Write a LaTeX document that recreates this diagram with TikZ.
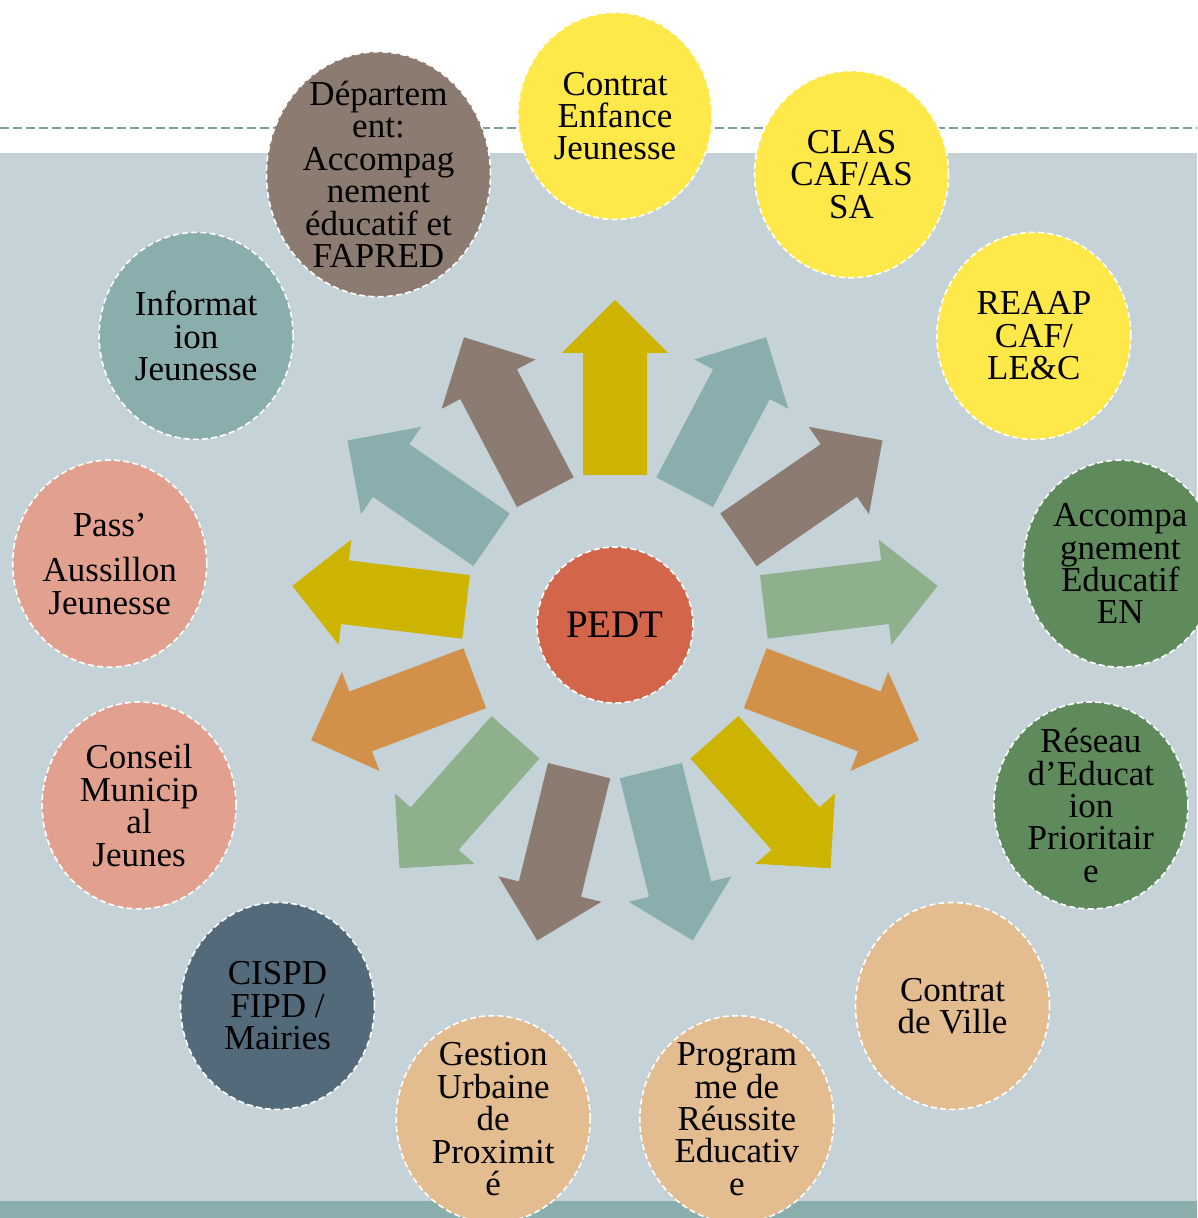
\documentclass[tikz,border=0pt]{standalone}
\usepackage{fontspec}
\setmainfont{Liberation Serif}
\usetikzlibrary{positioning}
\usetikzlibrary{shapes.geometric}

\definecolor{bggrey}{HTML}{C5D2D8}
\definecolor{stripteal}{HTML}{8AADAE}
\definecolor{linegrey}{HTML}{7D9D9E}
\definecolor{arryellow}{HTML}{CDB401}
\definecolor{arrteal}{HTML}{8AADAE}
\definecolor{arrbrown}{HTML}{8C7B70}
\definecolor{arrgreen}{HTML}{8FB08C}
\definecolor{arrorange}{HTML}{D2914A}
\definecolor{pedtred}{HTML}{D2654A}
\definecolor{sunyellow}{HTML}{FFE84A}
\definecolor{darkgreen}{HTML}{5F8B5C}
\definecolor{sand}{HTML}{E3BC8F}
\definecolor{slate}{HTML}{526A7A}
\definecolor{rose}{HTML}{E2A18F}

\begin{document}
\begin{tikzpicture}[
                            x=0.5pt, y=0.5pt,
                            bubble/.style={ellipse, draw=white, line width=0.8pt,
                                dash pattern=on 3pt off 1.6pt, inner sep=0pt,
                                minimum width=97pt, minimum height=103.5pt},
                            txt/.style={align=center, inner sep=0pt,
                                font=\fontsize{17.5}{16.2}\selectfont},
                            hub/.style={circle, fill=pedtred, draw=white, line width=0.8pt,
                                dash pattern=on 3pt off 1.6pt, inner sep=0pt,
                                minimum size=78pt, font=\fontsize{19.5}{22}\selectfont},
                            spoke/.pic={\fill[#1] (150,-32) -- (272,-32) -- (272,-53) -- (325,0)
                                -- (272,53) -- (272,32) -- (150,32) -- cycle;}
                            ]
                            \useasboundingbox (-615,-593) rectangle (582,625);
                            % background bands
                            \fill[bggrey]    (-615,472)  rectangle (582,-576);
                            \fill[stripteal] (-615,-576) rectangle (582,-593);
                            \draw[linegrey, line width=0.75pt, dash pattern=on 4.5pt off 2pt]
                                (-615,497) -- (582,497);

                            % spokes
                            \pic[rotate=90]        {spoke=arryellow};
                            \pic[rotate=62.3077]   {spoke=arrteal};
                            \pic[rotate=34.6154]   {spoke=arrbrown};
                            \pic[rotate=6.9231]    {spoke=arrgreen};
                            \pic[rotate=-20.7692]  {spoke=arrorange};
                            \pic[rotate=-48.4615]  {spoke=arryellow};
                            \pic[rotate=-76.1538]  {spoke=arrteal};
                            \pic[rotate=-103.8462] {spoke=arrbrown};
                            \pic[rotate=-131.5385] {spoke=arrgreen};
                            \pic[rotate=-159.2308] {spoke=arrorange};
                            \pic[rotate=173.0769]  {spoke=arryellow};
                            \pic[rotate=145.3846]  {spoke=arrteal};
                            \pic[rotate=117.6923]  {spoke=arrbrown};

                            \node[hub]                                  (pedt)  at (0,0)         {PEDT};

                            % partners
                            \node[bubble, fill=sunyellow, label={[txt]center:{Contrat\\Enfance\\Jeunesse}}]
                                                                        (cej)   at (90:509)       {};
                            \node[bubble, fill=sunyellow, label={[txt]center:{CLAS\\CAF/AS\\SA}}]
                                                                        (clas)  at (62.3077:509)  {};
                            \node[bubble, fill=sunyellow, label={[txt]center:{REAAP\\CAF/\\LE\&C}}]
                                                                        (reaap) at (34.6154:509)  {};
                            \node[bubble, fill=darkgreen, label={[txt]center:{Accompa\\gnement\\Educatif\\EN}}]
                                                                        (acc)   at (6.9231:509)   {};
                            \node[bubble, fill=darkgreen, label={[txt]center:{Réseau\\d’Educat\\ion\\Prioritair\\e}}]
                                                                        (rep)   at (-20.7692:509) {};
                            \node[bubble, fill=sand, label={[txt]center:{Contrat\\de Ville}}]
                                                                        (cdv)   at (-48.4615:509) {};
                            \node[bubble, fill=sand, label={[txt]center:{Program\\me de\\Réussite\\Educativ\\e}}]
                                                                        (pre)   at (-76.1538:509) {};
                            \node[bubble, fill=sand, label={[txt]center:{Gestion\\Urbaine\\de\\Proximit\\é}}]
                                                                        (gup)   at (-103.8462:509) {};
                            \node[bubble, fill=slate, label={[txt]center:{CISPD\\FIPD /\\Mairies}}]
                                                                        (cispd) at (-131.5385:509) {};
                            \node[bubble, fill=rose, label={[txt]center:{Conseil\\Municip\\al\\Jeunes}}]
                                                                        (cmj)   at (-159.2308:509) {};
                            \node[bubble, fill=rose, label={[txt]center:{Pass’\\[6.5pt]Aussillon\\Jeunesse}}]
                                                                        (pass)  at (173.0769:509) {};
                            \node[bubble, fill=arrteal, label={[txt]center:{Informat\\ion\\Jeunesse}}]
                                                                        (ij)    at (145.3846:509) {};
                            \node[bubble, fill=arrbrown, minimum width=112pt, minimum height=122.5pt,
                                  label={[txt]center:{Départem\\ent:\\Accompag\\nement\\éducatif et\\FAPRED}}]
                                                                        (dep)   at (117.6923:509) {};
                        \end{tikzpicture}
\end{document}
